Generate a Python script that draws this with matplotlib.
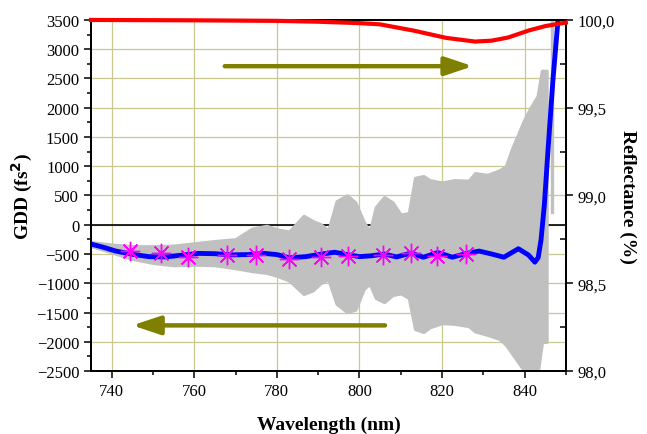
import matplotlib
matplotlib.use("Agg")
import matplotlib.pyplot as plt
from matplotlib.ticker import MultipleLocator, FuncFormatter

# calculated GDD (blue curve)
wl_calc = [735, 738, 741, 745, 749, 753, 757, 761, 765, 769, 773, 777, 780, 783,
           787, 791, 794, 797, 800, 803, 806, 809, 812.5, 815.5, 819, 822.5, 826,
           829, 832, 835, 838.5, 841, 842.5, 843.3, 844, 844.8, 845.7, 846.9, 848.1, 848.5]
gdd_calc = [-330, -385, -450, -505, -545, -550, -520, -490, -495, -515, -510, -490, -510, -565,
            -545, -500, -470, -510, -545, -530, -500, -550, -485, -555, -475, -555, -490,
            -450, -500, -555, -410, -520, -640, -560, -250, 350, 1300, 2500, 3500, 3800]

# tolerance band (grey)
band_wl = [735, 740, 745, 750, 755, 760, 765, 770, 774, 777.5, 780, 783, 786.5, 788.7,
           790.5, 792.5, 794.5, 797, 799, 801, 802.5, 804, 806, 808, 810, 812, 813.5,
           815.5, 817, 820, 823, 826.5, 828, 831, 834, 835.5, 837, 838.5, 840, 841.5,
           843.2, 844.2, 845.3]
band_hi = [-300, -340, -370, -370, -360, -320, -280, -250, -70, -20, -80, -120, 150, 60,
           10, -100, 400, 500, 380, 50, -130, 300, 470, 380, 170, 200, 800,
           830, 760, 720, 760, 750, 880, 850, 930, 1000, 1300, 1550, 1800, 2000,
           2200, 2630, 2630]
band_lo = [-360, -470, -580, -650, -690, -680, -690, -740, -790, -820, -870, -950, -1180, -1120,
           -1000, -930, -1350, -1490, -1450, -1100, -1000, -1250, -1320, -1200, -1170, -1250, -1780,
           -1830, -1750, -1680, -1690, -1730, -1820, -1880, -1950, -2050, -2200, -2350, -2500, -2500,
           -2500, -2000, -2000]
spike_wl = [846.3, 846.9]
spike_hi = [3500, 3500]
spike_lo = [200, 200]

# measured GDD (magenta asterisks)
wl_meas = [744.5, 752, 758.5, 768, 775, 783, 790.6, 797.3, 805.6, 812.6, 818.9, 825.8]
gdd_meas = [-454, -478, -557, -510, -517, -585, -551, -529, -517, -488, -534, -494]

# reflectance (red curve, right axis)
wl_refl = [735, 760, 780, 790, 800, 805, 813, 821, 828, 832, 836, 841, 845, 850]
refl = [100.0, 99.998, 99.995, 99.99, 99.982, 99.975, 99.94, 99.898, 99.877, 99.882,
        99.9, 99.94, 99.965, 99.985]

# direction arrows (tail, head)
arrow_right = [(767.4, 2710), (827.5, 2710)]
arrow_left = [(806.2, -1720), (745.0, -1720)]

plt.rcParams['font.family'] = ['Liberation Serif', 'DejaVu Serif']
plt.rcParams['font.size'] = 12

fig = plt.figure(figsize=(6.47, 4.35), dpi=100)
ax = fig.add_axes([0.1406, 0.1448, 0.734, 0.807])

grid_c = '#c9c98f'
ax.grid(True, color=grid_c, lw=0.9, zorder=0)
ax.set_axisbelow(True)
ax.axhline(0, color='black', lw=1.2, zorder=1)

ax.fill_between(band_wl, band_lo, band_hi, color='#c0c0c0', lw=2.5,
                edgecolor='#c0c0c0', zorder=2)
ax.fill_between(spike_wl, spike_lo, spike_hi, color='#c0c0c0', lw=1,
                edgecolor='#c0c0c0', zorder=2)
ax.plot(wl_calc, gdd_calc, color='#0000ff', lw=3.5, zorder=3, solid_capstyle='round')
ax.plot(wl_meas, gdd_meas, ls='none', marker=(8, 2, 0), ms=14, mew=1.0,
        color='#ff00ff', mec='#ff00ff', zorder=4)
ax.plot(wl_meas, gdd_meas, ls='none', marker='o', ms=3, color='#ff00ff', zorder=4)

olive = '#808000'
for (tail, head) in [arrow_right, arrow_left]:
    ax.annotate('', xy=head, xytext=tail,
                arrowprops=dict(arrowstyle='-|>,head_length=0.6,head_width=0.2',
                                lw=3.2, color=olive, mutation_scale=28,
                                shrinkA=0, shrinkB=0), zorder=5)

ax.set_xlim(735, 850)
ax.set_ylim(-2500, 3500)
ax.xaxis.set_major_locator(MultipleLocator(20))
ax.xaxis.set_minor_locator(MultipleLocator(10))
ax.yaxis.set_major_locator(MultipleLocator(500))
ax.yaxis.set_minor_locator(MultipleLocator(250))
ax.tick_params(which='major', direction='out', length=5, width=1.1, labelsize=12)
ax.tick_params(which='minor', direction='out', length=3, width=1.1)
ax.tick_params(top=False, right=False)
for s in ax.spines.values():
    s.set_linewidth(1.4)

ax.set_xlabel('Wavelength (nm)', fontsize=14, fontweight='bold')
ax.set_ylabel('GDD (fs$^\\mathbf{2}$)', fontsize=14, fontweight='bold')
ax.xaxis.set_label_coords(0.5, -0.128)
ax.yaxis.set_label_coords(-0.118, 0.5)

ax2 = ax.twinx()
ax2.plot(wl_refl, refl, color='#ff0000', lw=3, clip_on=False, zorder=3)
ax2.set_ylim(98.0, 100.0)
ax2.yaxis.set_major_locator(MultipleLocator(0.5))
ax2.yaxis.set_minor_locator(MultipleLocator(0.25))
ax2.yaxis.set_major_formatter(FuncFormatter(lambda v, p: f'{v:.1f}'.replace('.', ',')))
ax2.tick_params(which='major', direction='out', length=5, width=1.1, labelsize=12)
ax2.tick_params(which='minor', direction='in', length=4, width=1.1)
ax2.set_ylabel('Reflectance (%)', fontsize=14, fontweight='bold', rotation=270)
ax2.yaxis.set_label_coords(1.148, 0.5)
for s in ax2.spines.values():
    s.set_linewidth(1.4)

fig.savefig('out.png', dpi=100)
